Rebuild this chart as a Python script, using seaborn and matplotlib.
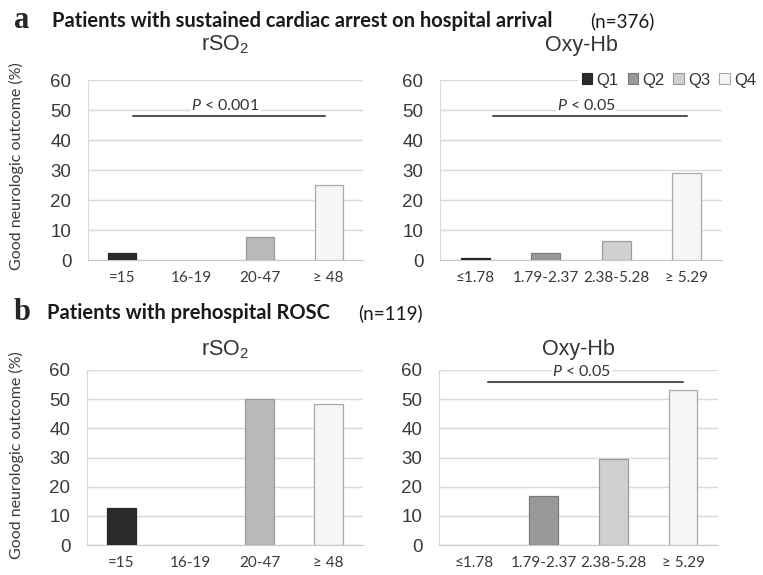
import matplotlib
matplotlib.use("Agg")
import matplotlib.pyplot as plt
import matplotlib.patches as mpatches
import pandas as pd
import seaborn as sns

# Data
rso2_labels = ["=15", "16-19", "20-47", "≥ 48"]
oxy_labels = ["≤1.78", "1.79-2.37", "2.38-5.28", "≥ 5.29"]
quartiles = ["Q1", "Q2", "Q3", "Q4"]

arrest_rso2 = [2.2, 0, 7.6, 25.0]
arrest_oxy = [0.8, 2.4, 6.3, 29.0]
rosc_rso2 = [12.6, 0, 50.0, 48.5]
rosc_oxy = [0, 16.8, 29.5, 53.3]

y_ticks = [0, 10, 20, 30, 40, 50, 60]

# P value bars: (text, level, first category, last category)
p_arrest_rso2 = ("< 0.001", 48, 0.15, 2.95)
p_arrest_oxy = ("< 0.05", 48, 0.25, 3.0)
p_rosc_oxy = ("< 0.05", 56, 0.2, 3.0)

rso2_colors = {"Q1": "#2b2b2b", "Q2": "#999999", "Q3": "#bababa", "Q4": "#f6f6f6"}
oxy_colors = {"Q1": "#2b2b2b", "Q2": "#999999", "Q3": "#d0d0d0", "Q4": "#f6f6f6"}
edges = {"Q1": "#262626", "Q2": "#7a7a7a", "Q3": "#9a9a9a", "Q4": "#a8a8a8"}

sns.set_style("white")
plt.rcParams["font.family"] = ["Liberation Sans", "DejaVu Sans"]
plt.rcParams["mathtext.fontset"] = "custom"
plt.rcParams["mathtext.it"] = "Lato:italic"
plt.rcParams["mathtext.rm"] = "Liberation Sans"

W, H = 763, 575
fig = plt.figure(figsize=(W / 100, H / 100), dpi=100)


def box(left, right, top, bottom):
    return [left / W, 1 - bottom / H, (right - left) / W, (bottom - top) / H]


def panel(rect, labels, values, colors, title, title_y, p=None):
    ax = fig.add_axes(rect)
    df = pd.DataFrame({"group": labels, "value": values, "quartile": quartiles})
    sns.barplot(data=df, x="group", y="value", hue="quartile", palette=colors,
                width=0.41, legend=False, ax=ax, zorder=3)
    for bar, q in zip(ax.patches, quartiles):
        bar.set_edgecolor(edges[q])
        bar.set_linewidth(0.9 if bar.get_height() > 0 else 0)
    ax.set_ylim(0, 60)
    ax.set_xlim(-0.5, 3.5)
    ax.set_yticks(y_ticks)
    ax.yaxis.grid(True, color="#d9d9d9", linewidth=1.0, zorder=0)
    ax.set_axisbelow(True)
    for s in ["top", "right"]:
        ax.spines[s].set_visible(False)
    ax.spines["left"].set_color("#d9d9d9")
    ax.spines["bottom"].set_color("#c8c8c8")
    ax.tick_params(axis="y", length=5, color="#d9d9d9", labelsize=13.5,
                   labelcolor="#3a3a3a", pad=7)
    ax.tick_params(axis="x", length=0, labelsize=11, labelcolor="#3a3a3a", pad=8)
    for t in ax.get_xticklabels():
        t.set_fontfamily(["Lato", "DejaVu Sans"])
    ax.set_xlabel("")
    ax.set_ylabel("")
    fig.text((rect[0] + rect[2] / 2), 1 - title_y / H, title, ha="center",
             va="center", fontsize=15.5, color="#333333")
    if p is not None:
        text, level, x0, x1 = p
        ax.plot([x0, x1], [level, level], color="#555555", linewidth=1.5, zorder=4)
        ax.text((x0 + x1) / 2 - 0.05, level + 1.0, "$P$ " + text, ha="center",
                va="bottom", fontsize=11.5, color="#333333", family="Lato",
                zorder=4, bbox=dict(facecolor="white", edgecolor="none", pad=0.5))
    return ax


ax1 = panel(box(88, 363, 80, 260), rso2_labels, arrest_rso2, rso2_colors,
            "rSO$_2$", 45, p_arrest_rso2)
ax2 = panel(box(440, 722, 80, 260), oxy_labels, arrest_oxy, oxy_colors,
            "Oxy-Hb", 45, p_arrest_oxy)
ax3 = panel(box(87, 363, 370, 545), rso2_labels, rosc_rso2, rso2_colors,
            "rSO$_2$", 350)
ax4 = panel(box(439, 718, 370, 545), oxy_labels, rosc_oxy, oxy_colors,
            "Oxy-Hb", 350, p_rosc_oxy)

handles = [mpatches.Patch(facecolor=oxy_colors[q], edgecolor=edges[q], linewidth=0.8, label=q)
           for q in quartiles]
leg = ax2.legend(handles=handles, ncol=4, loc="center right",
                 bbox_to_anchor=(1.006, 1 - 80 / H), bbox_transform=fig.transFigure,
                 frameon=True, fancybox=False, edgecolor="none", facecolor="white",
                 framealpha=1, handlelength=0.62, handleheight=0.62, handletextpad=0.25,
                 columnspacing=0.55, borderpad=0.2, fontsize=12)
for t in leg.get_texts():
    t.set_color("#333333")

# Section headers
fig.text(14 / W, 1 - 21 / H, "a", fontsize=22, fontweight="bold",
         family="Liberation Serif", va="center")
fig.text(52 / W, 1 - 21 / H, "Patients with sustained cardiac arrest on hospital arrival",
         fontsize=14.5, fontweight="bold", family="Lato", va="center", color="#1a1a1a")
fig.text(590 / W, 1 - 21 / H, "(n=376)", fontsize=13.5, family="Lato",
         va="center", color="#1a1a1a")
fig.text(14 / W, 1 - 313 / H, "b", fontsize=22, fontweight="bold",
         family="Liberation Serif", va="center")
fig.text(47 / W, 1 - 313 / H, "Patients with prehospital ROSC",
         fontsize=14.5, fontweight="bold", family="Lato", va="center", color="#1a1a1a")
fig.text(358 / W, 1 - 313 / H, "(n=119)", fontsize=13.5, family="Lato",
         va="center", color="#1a1a1a")

for yc in [166, 455]:
    fig.text(16 / W, 1 - yc / H, "Good neurologic outcome (%)", rotation=90,
             ha="center", va="center", fontsize=11.5, family="Lato", color="#3a3a3a")

fig.savefig("out.png", dpi=100)
